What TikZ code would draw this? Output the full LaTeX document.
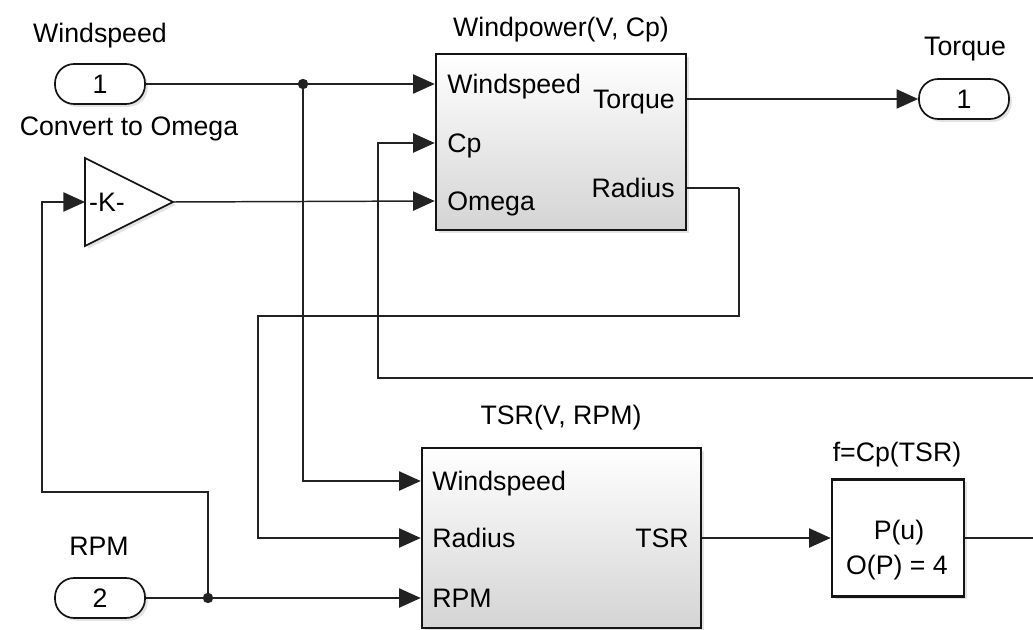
\documentclass[tikz,border=0pt]{standalone}
\usepackage{fontspec}
\setmainfont{Liberation Sans}
\definecolor{wirecol}{HTML}{222222}
\definecolor{edgecol}{HTML}{141414}
\definecolor{shadebot}{HTML}{d4d4d4}
\usetikzlibrary{arrows.meta,shadows}
\newcommand{\simfont}{\fontsize{19}{23}\selectfont}

\begin{document}
\begin{tikzpicture}[x=0.025cm, y=-0.025cm, font=\simfont,
  wire/.style={wirecol, line width=1.05pt},
  sig/.style={wire, -{Triangle[length=5.4mm, width=4.8mm]}},
  lbl/.style={inner sep=0pt, text height=13pt, text depth=0pt},
  softshadow/.style={drop shadow={shadow xshift=0.07cm, shadow yshift=-0.07cm, opacity=0.22}},
  subsys/.style={draw=edgecol, line width=1.8pt, top color=white, bottom color=shadebot, softshadow},
  fcnbox/.style={draw=edgecol, line width=1.8pt, fill=white, softshadow},
  pill/.style={draw=edgecol, line width=1.2pt, fill=white, rounded corners=0.48cm,
    minimum width=2.25cm, minimum height=1cm, inner sep=0pt, softshadow},
  dot/.style={circle, fill=wirecol, inner sep=0pt, minimum size=0.26cm}]

\useasboundingbox (0,0) rectangle (1033,630);

% === Inports ===
\node[lbl] (wsname) at (100,33) {Windspeed};
\node[pill] (wsin) at (100,84) {1};
\node[lbl] (rpmname) at (99,546) {RPM};
\node[pill] (rpmin) at (100,598) {2};

% === Gain ===
\node[lbl] (gainname) at (129,126) {Convert to Omega};
\draw[edgecol, line width=1.2pt, fill=white, softshadow]
  (85,158) -- (173,202) -- (85,246) -- cycle;
\node[lbl] (gain) at (107,202) {-K-};
\coordinate (gainin) at (85,202);
\coordinate (gainout) at (173,202);

% === Windpower(V, Cp) ===
\node[lbl] (wpname) at (561,27) {Windpower(V, Cp)};
\node[subsys, minimum width=6.25cm, minimum height=4.4cm] (wp) at (561,142) {};
\node[lbl, anchor=west] (wpV) at (447,84) {Windspeed};
\node[lbl, anchor=west] (wpC) at (447,143) {Cp};
\node[lbl, anchor=west] (wpW) at (447,201) {Omega};
\node[lbl, anchor=east] (wpT) at (675,99) {Torque};
\node[lbl, anchor=east] (wpR) at (675,188) {Radius};

% === TSR(V, RPM) ===
\node[lbl] (tsrname) at (561,415) {TSR(V, RPM)};
\node[subsys, minimum width=6.975cm, minimum height=4.5cm] (tsr) at (561.5,538) {};
\node[lbl, anchor=west] (tsrV) at (432,481) {Windspeed};
\node[lbl, anchor=west] (tsrR) at (432,538) {Radius};
\node[lbl, anchor=west] (tsrP) at (432,598) {RPM};
\node[lbl, anchor=east] (tsrO) at (689,538) {TSR};

% === f=Cp(TSR) ===
\node[lbl] (cpfname) at (897,452) {f=Cp(TSR)};
\node[fcnbox, minimum width=3.3cm, minimum height=2.925cm] (cpf) at (898,538) {};
\node[lbl] (cpfP) at (899,530) {P(u)};
\node[lbl] (cpfO) at (897,565) {O(P) = 4};

% === Outport ===
\node[lbl] (trqname) at (965,46) {Torque};
\node[pill] (trqout) at (964,99) {1};

% === Junctions and free ends ===
\node[dot] (wsjunc) at (303,84) {};
\node[dot] (rpmjunc) at (208,598) {};
\coordinate (fbcorner) at (42,492);
\coordinate (cpfeed) at (1033,378);
\coordinate (cpturn) at (378,378);
\coordinate (radturn) at (739,188);
\coordinate (radback) at (258,316);
\coordinate (cpfend) at (1033,538);

% === Signals ===
\draw[wire] (wsin.east) -- (wsjunc);
\draw[sig] (wsjunc) -- (wp.west |- wpV);
\draw[sig] (wsjunc) |- (tsr.west |- tsrV);
\draw[sig] (gainout) -- (wp.west |- wpW);
\draw[sig] (cpfeed) -- (cpturn) |- (wp.west |- wpC);
\draw[wire] (wp.east |- wpR) -- (radturn);
\draw[sig] (radturn) |- (radback) |- (tsr.west |- tsrR);
\draw[wire] (rpmin.east) -- (rpmjunc);
\draw[sig] (rpmjunc) -- (tsr.west |- tsrP);
\draw[sig] (rpmjunc) |- (fbcorner) |- (gainin);
\draw[sig] (wp.east |- wpT) -- (trqout.west);
\draw[sig] (tsr.east |- tsrO) -- (cpf.west);
\draw[wire] (cpf.east) -- (cpfend);

\end{tikzpicture}
\end{document}
